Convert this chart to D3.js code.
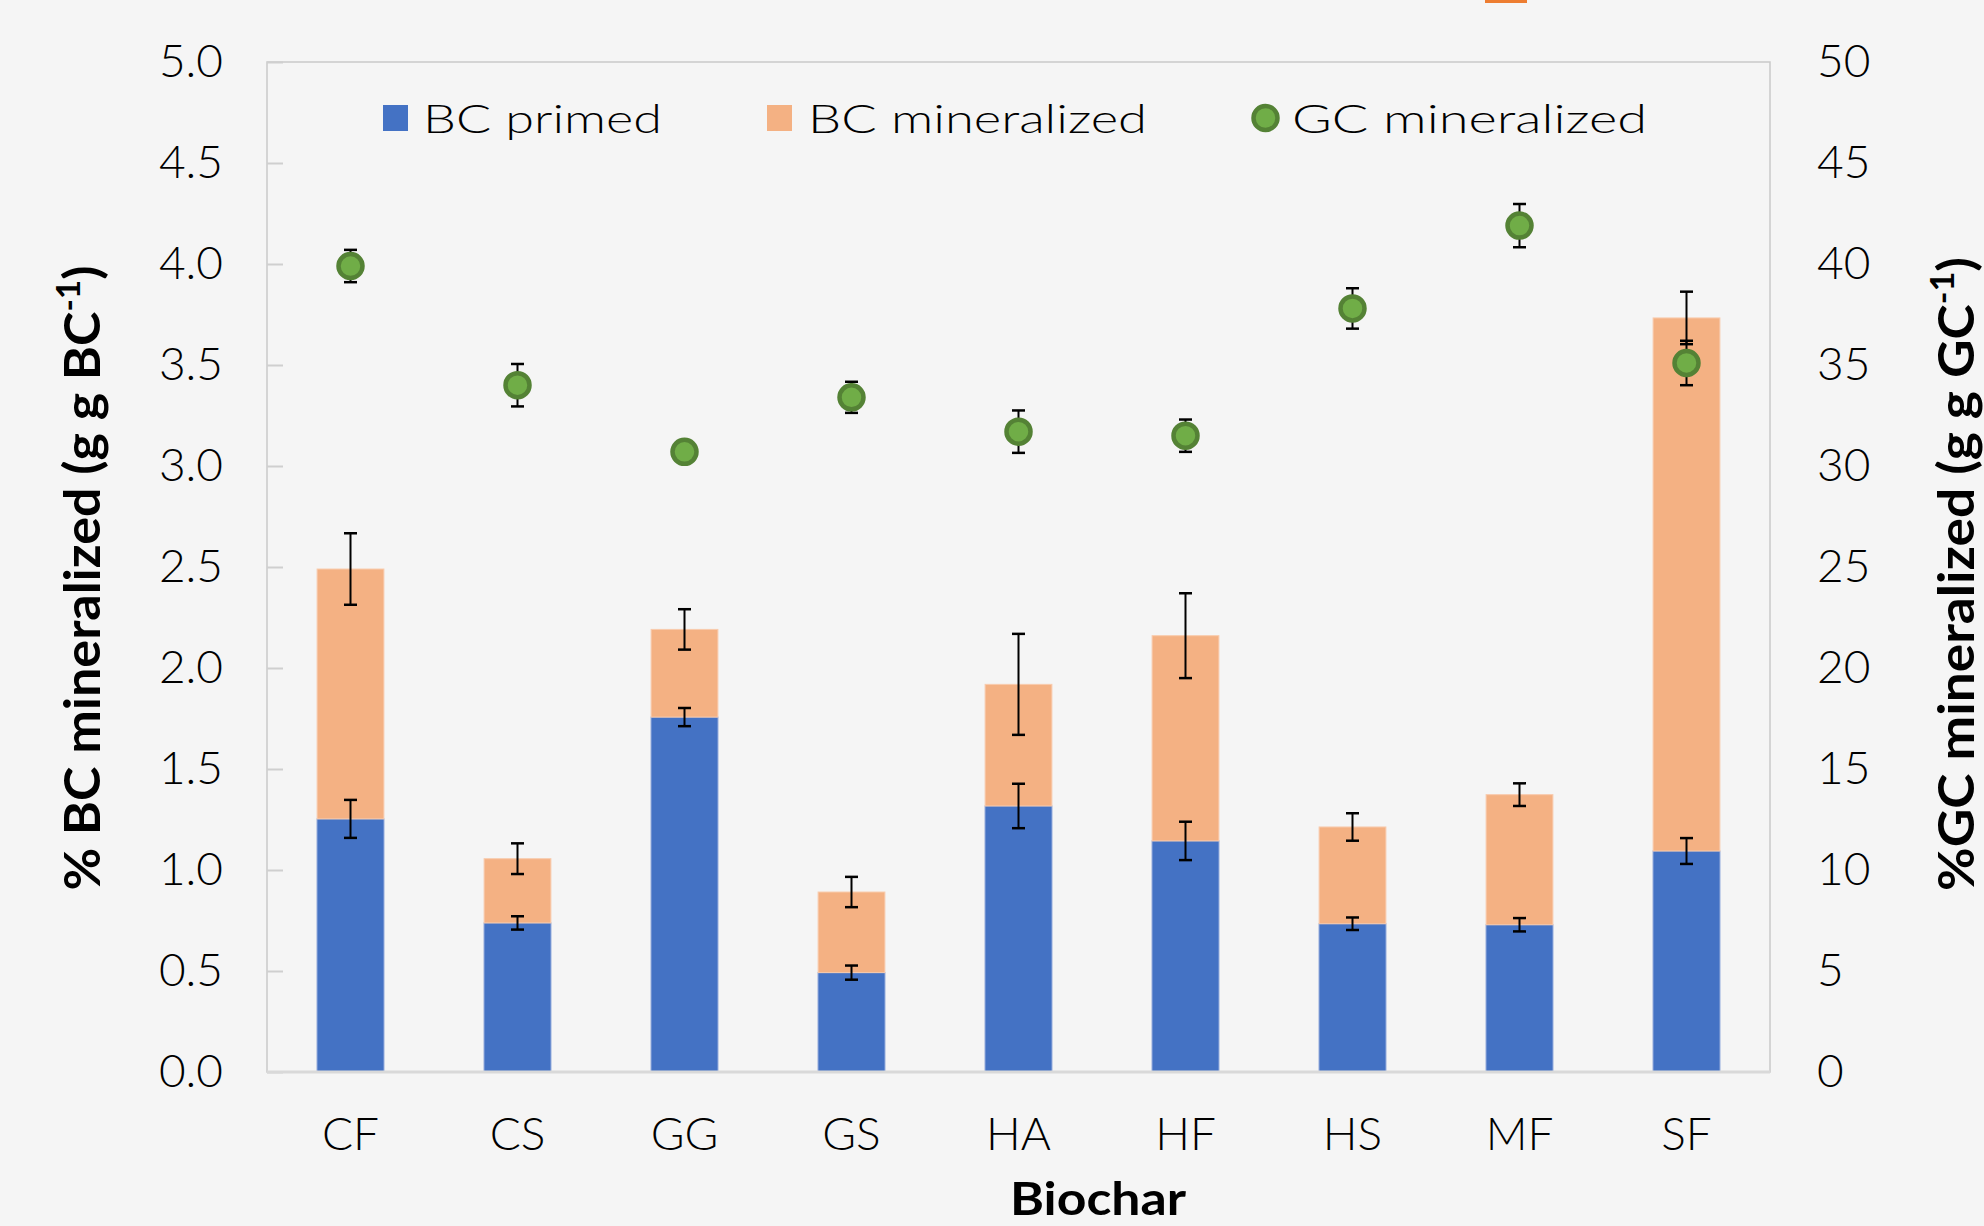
<!DOCTYPE html>
<html>
<head>
<meta charset="utf-8">
<script src="https://cdn.jsdelivr.net/npm/d3@7"></script>
<style>
html,body{margin:0;padding:0;background:#F5F5F5;}
svg{display:block;}
text{font-family:Lato,"Noto Sans",sans-serif;fill:#000;}
</style>
</head>
<body>
<svg id="chart" width="1984" height="1226"></svg>
<script>
// ---- data ----
const categories = ["CF","CS","GG","GS","HA","HF","HS","MF","SF"];
const bcPrimed      = [1.253, 0.738, 1.757, 0.492, 1.317, 1.144, 0.734, 0.729, 1.094];
const bcPrimedErr   = [0.094, 0.033, 0.045, 0.035, 0.110, 0.095, 0.031, 0.033, 0.064];
const bcMineralized = [1.237, 0.318, 0.434, 0.399, 0.602, 1.016, 0.479, 0.644, 2.639];
const bcMinErr      = [0.177, 0.076, 0.100, 0.075, 0.250, 0.210, 0.068, 0.056, 0.130];
const gcMineralized = [39.9, 34.0, 30.7, 33.4, 31.7, 31.5, 37.8, 41.9, 35.1];
const gcErr         = [0.80, 1.05, 0.40, 0.77, 1.05, 0.80, 1.00, 1.07, 1.10];
const leftTicks  = [0,0.5,1,1.5,2,2.5,3,3.5,4,4.5,5];
const rightTicks = [0,5,10,15,20,25,30,35,40,45,50];
const legendLabels = ["BC primed","BC mineralized","GC mineralized"];

// ---- layout ----
const svg = d3.select("#chart");
const L = 267, R = 1770, T = 62, B = 1072;
const colBlue = "#4472C4", colOrange = "#F4B183", colGreen = "#70AD47", colGreenDark = "#548235";

const x = d3.scaleBand().domain(categories).range([L, R]).paddingInner(0.6).paddingOuter(0.3);
const yL = d3.scaleLinear().domain([0, 5]).range([B, T]);
const yR = d3.scaleLinear().domain([0, 50]).range([B, T]);

// decorative orange mark at top
svg.append("rect").attr("x",1485).attr("y",0).attr("width",42).attr("height",3).attr("fill","#ED7D31");

// plot border
svg.append("rect").attr("x",L).attr("y",T).attr("width",R-L).attr("height",B-T)
  .attr("fill","none").attr("stroke","#C9C9C9").attr("stroke-width",1.5);

// left axis inside ticks
const lAxis = d3.axisLeft(yL).tickValues(leftTicks).tickFormat(d3.format(".1f")).tickSize(-16).tickPadding(60);
const gL = svg.append("g").attr("transform",`translate(${L},0)`).call(lAxis);
gL.select(".domain").remove();
gL.selectAll(".tick line").attr("stroke","#CFCFCF").attr("stroke-width",2);
gL.selectAll(".tick text").attr("x",-44).attr("font-size",46).attr("font-family","Lato").attr("font-weight",300).attr("fill","#000").attr("text-anchor","end");

const rAxis = d3.axisRight(yR).tickValues(rightTicks).tickFormat(d3.format("d")).tickSize(0).tickPadding(47);
const gR = svg.append("g").attr("transform",`translate(${R},0)`).call(rAxis);
gR.select(".domain").remove();
gR.selectAll(".tick text").attr("font-size",46).attr("font-family","Lato").attr("font-weight",300).attr("fill","#000");

// bottom axis labels
const bAxis = d3.axisBottom(x).tickSize(0).tickPadding(0);
const gB = svg.append("g").attr("transform",`translate(0,${B})`).call(bAxis);
gB.select(".domain").remove();
gB.selectAll(".tick text").attr("y",78).attr("dy",0).attr("font-size",46).attr("font-family","Lato").attr("font-weight",300).attr("fill","#000");

// bars
const bw = x.bandwidth();
svg.append("g").selectAll("rect").data(categories).join("rect")
  .attr("x",d=>x(d)).attr("width",bw)
  .attr("y",(d,i)=>yL(bcPrimed[i])).attr("height",(d,i)=>yL(0)-yL(bcPrimed[i]))
  .attr("fill",colBlue).attr("stroke","#7E9BD6").attr("stroke-width",1);
svg.append("g").selectAll("rect").data(categories).join("rect")
  .attr("x",d=>x(d)).attr("width",bw)
  .attr("y",(d,i)=>yL(bcPrimed[i]+bcMineralized[i]))
  .attr("height",(d,i)=>yL(bcPrimed[i])-yL(bcPrimed[i]+bcMineralized[i]))
  .attr("fill",colOrange).attr("stroke","#F8CBAD").attr("stroke-width",1);

// bottom axis line
svg.append("line").attr("x1",L).attr("x2",R).attr("y1",B).attr("y2",B)
  .attr("stroke","#D9D9D9").attr("stroke-width",3);

// error bars helper
function errBar(g, cx, yTop, yBot, cap){
  g.append("line").attr("x1",cx).attr("x2",cx).attr("y1",yTop).attr("y2",yBot).attr("stroke","#000").attr("stroke-width",2);
  g.append("line").attr("x1",cx-cap).attr("x2",cx+cap).attr("y1",yTop).attr("y2",yTop).attr("stroke","#000").attr("stroke-width",2.5);
  g.append("line").attr("x1",cx-cap).attr("x2",cx+cap).attr("y1",yBot).attr("y2",yBot).attr("stroke","#000").attr("stroke-width",2.5);
}
const gE = svg.append("g");
categories.forEach((c,i)=>{
  const cx = x(c)+bw/2;
  errBar(gE, cx, yL(bcPrimed[i]+bcPrimedErr[i]), yL(bcPrimed[i]-bcPrimedErr[i]), 6.5);
  const tot = bcPrimed[i]+bcMineralized[i];
  errBar(gE, cx, yL(tot+bcMinErr[i]), yL(tot-bcMinErr[i]), 6.5);
  errBar(gE, cx, yR(gcMineralized[i]+gcErr[i]), yR(gcMineralized[i]-gcErr[i]), 6.5);
});

// GC markers
svg.append("g").selectAll("circle").data(categories).join("circle")
  .attr("cx",d=>x(d)+bw/2).attr("cy",(d,i)=>yR(gcMineralized[i]))
  .attr("r",12).attr("fill",colGreen).attr("stroke",colGreenDark).attr("stroke-width",4.5);

// legend
const lg = svg.append("g");
lg.append("rect").attr("x",383).attr("y",105).attr("width",25).attr("height",26).attr("fill",colBlue);
lg.append("text").attr("x",423).attr("y",133).attr("font-size",39).attr("font-weight",300).attr("textLength",239).attr("lengthAdjust","spacingAndGlyphs").text(legendLabels[0]);
lg.append("rect").attr("x",767).attr("y",105).attr("width",25).attr("height",26).attr("fill",colOrange);
lg.append("text").attr("x",808).attr("y",133).attr("font-size",39).attr("font-weight",300).attr("textLength",339).attr("lengthAdjust","spacingAndGlyphs").text(legendLabels[1]);
lg.append("circle").attr("cx",1265.5).attr("cy",118).attr("r",12).attr("fill",colGreen).attr("stroke",colGreenDark).attr("stroke-width",4.5);
lg.append("text").attr("x",1292).attr("y",133).attr("font-size",39).attr("font-weight",300).attr("textLength",355).attr("lengthAdjust","spacingAndGlyphs").text(legendLabels[2]);

// axis titles
svg.append("text").attr("x",1098).attr("y",1215).attr("text-anchor","middle")
  .attr("font-size",46).attr("font-weight",700).attr("textLength",176).attr("lengthAdjust","spacingAndGlyphs").text("Biochar");

const tl = svg.append("text").attr("transform","translate(100,578) rotate(-90)").attr("text-anchor","middle")
  .attr("font-size",50).attr("font-weight",700).attr("textLength",625).attr("lengthAdjust","spacingAndGlyphs");
tl.append("tspan").text("% BC mineralized (g g BC");
tl.append("tspan").attr("font-size",32).attr("dy",-20).text("-1");
tl.append("tspan").attr("dy",20).text(")");

const tr = svg.append("text").attr("transform","translate(1974,574) rotate(-90)").attr("text-anchor","middle")
  .attr("font-size",50).attr("font-weight",700).attr("textLength",634).attr("lengthAdjust","spacingAndGlyphs");
tr.append("tspan").text("%GC mineralized (g g GC");
tr.append("tspan").attr("font-size",32).attr("dy",-20).text("-1");
tr.append("tspan").attr("dy",20).text(")");
</script>
</body>
</html>
